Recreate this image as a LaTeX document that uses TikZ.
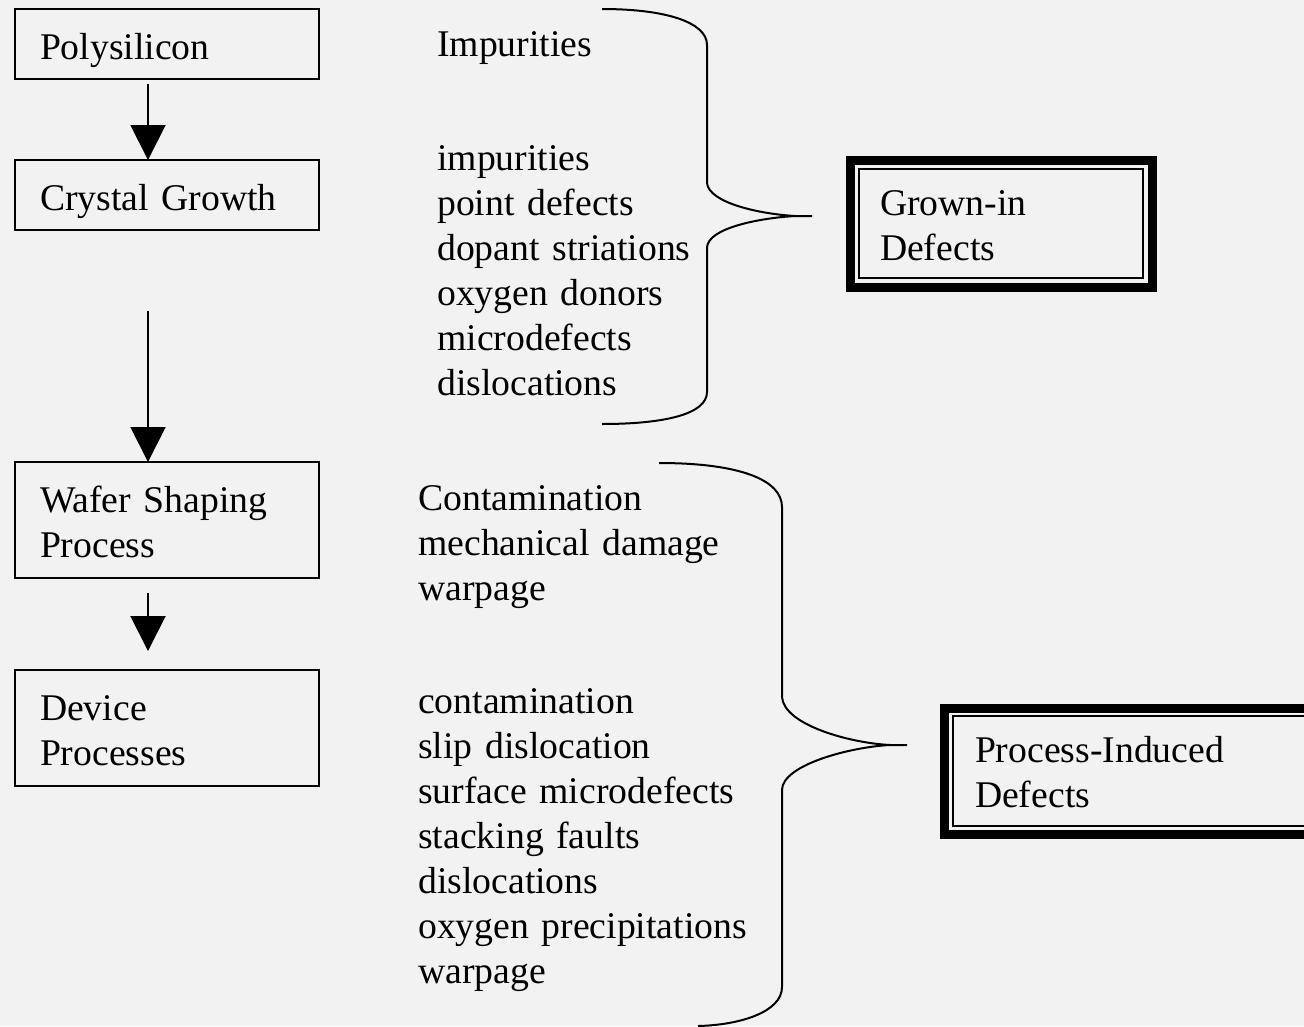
\documentclass[tikz,border=0pt]{standalone}
\usepackage{fontspec}
\setmainfont{Liberation Serif}
\usetikzlibrary{arrows.meta,calc}
\definecolor{paper}{HTML}{F2F2F2}

\begin{document}
\begin{tikzpicture}[x=1pt,y=-1pt,
  font=\fontsize{37.7pt}{45pt}\selectfont,
  stagebox/.style={draw,line width=2.2pt,outer sep=0pt,inner xsep=25pt,
    inner ysep=0pt,text width=254pt,align=left,text height=50pt,
    anchor=north west},
  defectbox/.style={draw,line width=2pt,outer sep=0pt,inner ysep=0pt,
    align=left,anchor=north west},
  outerframe/.style={line width=9pt},
  itemlist/.style={inner sep=0pt,text width=380pt,align=left,
    anchor=base west},
  flowarrow/.style={line width=2pt,-{Triangle[length=35pt,width=35pt]}},
  bracepath/.style={line width=2pt}]
\clip (0,0) rectangle (1304,1026);
\fill[paper] (0,0) rectangle (1304,1026);

\node[stagebox,text depth=20pt] (poly) at (15,9) {Polysilicon};
\node[stagebox,text depth=20pt] (crystal) at (15,160) {Crystal Growth};
\node[stagebox,text depth=66pt] (wafer) at (15,462) {Wafer Shaping\\Process};
\node[stagebox,text depth=66pt] (device) at (15,670) {Device\\Processes};

\draw[flowarrow,shorten <=5pt] ([xshift=-19pt]poly.south)
  -- ([xshift=-19pt]crystal.north);
\draw[flowarrow,shorten <=81pt] ([xshift=-19pt]crystal.south)
  -- ([xshift=-19pt]wafer.north);
\draw[flowarrow,shorten <=15pt,shorten >=19pt] ([xshift=-19pt]wafer.south)
  -- ([xshift=-19pt]device.north);

\node[itemlist] (rawimp) at (437,56) {Impurities};
\node[itemlist] (growth) at (437,170) {impurities\\point defects\\
  dopant striations\\oxygen donors\\microdefects\\dislocations};
\node[itemlist] (shaping) at (418,510) {Contamination\\mechanical damage\\
  warpage};
\node[itemlist] (devproc) at (418,713) {contamination\\slip dislocation\\
  surface microdefects\\stacking faults\\dislocations\\
  oxygen precipitations\\warpage};

\draw[bracepath] (602,9) .. controls (665,9) and (707,22) .. (707,45)
  -- (707,183) .. controls (709,203) and (760,214) .. (795,216) -- (812,216)
  (795,216) .. controls (760,218) and (707,228) .. (707,248)
  -- (707,392) .. controls (707,414) and (665,424) .. (602,424);
\draw[bracepath] (659,463) .. controls (740,463) and (782,480) .. (782,507)
  -- (782,697) .. controls (784,725) and (850,743) .. (890,745) -- (907,745)
  (890,745) .. controls (850,747) and (782,765) .. (782,790)
  -- (782,987) .. controls (782,1012) and (740,1025) .. (698,1026);

\node[defectbox,inner xsep=21pt,text width=242pt,text height=46pt,
  text depth=63pt] (grown) at (859,169) {Grown-in\\Defects};
\draw[outerframe] ([shift={(-8.5pt,8.5pt)}]grown.north west)
  rectangle ([shift={(9pt,-9pt)}]grown.south east);
\node[defectbox,inner xsep=22pt,text width=356pt,text height=46pt,
  text depth=64pt] (induced) at (953,716) {Process-Induced\\Defects};
\draw[outerframe] ([shift={(-8.5pt,8pt)}]induced.north west)
  rectangle ([shift={(8.5pt,-8.5pt)}]induced.south east);
\end{tikzpicture}
\end{document}
